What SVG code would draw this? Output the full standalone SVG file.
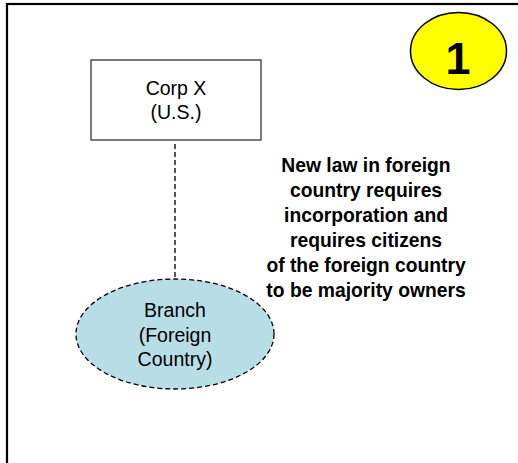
<svg xmlns="http://www.w3.org/2000/svg" width="518" height="463" viewBox="0 0 518 463">
<style>
.t{font-family:"Liberation Sans",Arial,sans-serif;fill:#000;text-anchor:middle}
.n{font-size:19.5px}
.b{font-size:19.3px;font-weight:bold}
.dash{stroke:#000;stroke-width:1.3;stroke-dasharray:5,3;fill:none}
</style>
<rect x="7" y="4" width="600" height="600" fill="#fff" stroke="#000" stroke-width="2.2"/>
<g id="connectors">
<line class="dash" x1="175" y1="144" x2="175" y2="280"/>
</g>
<g id="corpx">
<rect x="91" y="60" width="170" height="80" fill="#fff" stroke="#333" stroke-width="1.3"/>
<text class="t n" x="176" y="94.5">Corp X</text>
<text class="t n" x="176" y="118.5">(U.S.)</text>
</g>
<g id="branch">
<ellipse cx="175" cy="334" rx="99" ry="55" class="dash" style="fill:#b7dde6"/>
<text class="t n" x="175" y="317">Branch</text>
<text class="t n" x="175" y="342">(Foreign</text>
<text class="t n" x="175" y="366">Country)</text>
</g>
<g id="note">
<text class="t b" x="366" y="172">New law in foreign</text>
<text class="t b" x="366" y="197">country requires</text>
<text class="t b" x="366" y="222">incorporation and</text>
<text class="t b" x="366" y="247">requires citizens</text>
<text class="t b" x="366" y="272">of the foreign country</text>
<text class="t b" x="366" y="297">to be majority owners</text>
</g>
<g id="badge">
<ellipse cx="458.5" cy="51" rx="48" ry="38.5" fill="#ffff00" stroke="#000" stroke-width="1.5"/>
<text class="t" x="458" y="74" style="font-size:45px;font-weight:bold">1</text>
</g>
</svg>
